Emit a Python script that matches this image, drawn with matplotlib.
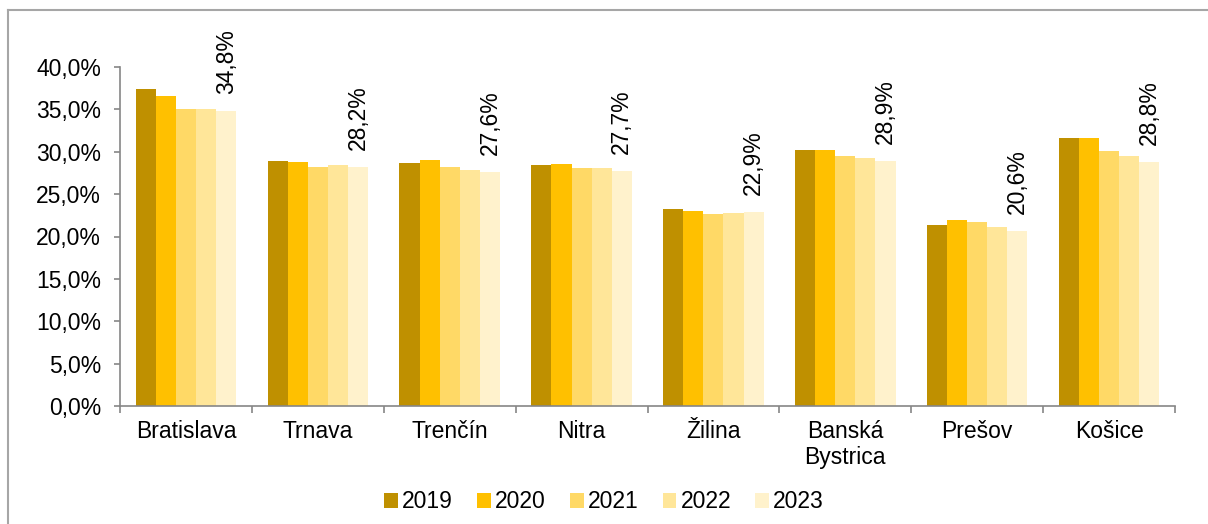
import numpy as np
import matplotlib.pyplot as plt
from matplotlib.lines import Line2D
from matplotlib.ticker import FuncFormatter

plt.rcParams['font.family'] = ['Liberation Sans', 'DejaVu Sans']

regions = ['Bratislava', 'Trnava', 'Trenčín', 'Nitra', 'Žilina',
           'Banská\nBystrica', 'Prešov', 'Košice']
years = ['2019', '2020', '2021', '2022', '2023']

v2019 = [37.4, 28.9, 28.7, 28.4, 23.2, 30.2, 21.3, 31.6]
v2020 = [36.6, 28.8, 29.0, 28.5, 23.0, 30.2, 21.9, 31.6]
v2021 = [35.1, 28.2, 28.2, 28.1, 22.7, 29.5, 21.7, 30.1]
v2022 = [35.0, 28.4, 27.9, 28.1, 22.8, 29.3, 21.1, 29.5]
v2023 = [34.8, 28.2, 27.6, 27.7, 22.9, 28.9, 20.6, 28.8]

colors = ['#BF9000', '#FFC000', '#FFD966', '#FFE699', '#FFF2CC']
series = [v2019, v2020, v2021, v2022, v2023]

fig = plt.figure(figsize=(12.08, 5.24), dpi=100)
ax = fig.add_axes([120/1208, 1-406/524, (1175-120)/1208, (406-67)/524])

x = np.arange(len(regions))
w = 0.1525
for i, (vals, c, yr) in enumerate(zip(series, colors, years)):
    pos = x + (i - 2) * w
    ax.bar(pos, vals, width=w, color=c, label=yr, zorder=2)
    if yr == '2023':
        for px, v in zip(pos, vals):
            ax.annotate(('%.1f%%' % v).replace('.', ','), (px, v),
                        xytext=(0, 12.5), textcoords='offset points',
                        rotation=90, ha='center', va='bottom', fontsize=16.5)

ax.set_xlim(-0.5, len(regions) - 0.5)
ax.set_ylim(0, 40)
ax.set_yticks(np.arange(0, 41, 5))
ax.yaxis.set_major_formatter(FuncFormatter(lambda v, p: ('%.1f%%' % v).replace('.', ',')))

ax.set_xticks(x)
ax.set_xticklabels(regions, fontsize=16.5, linespacing=1.15)
ax.set_xticks(np.arange(-0.5, len(regions)), minor=True)
ax.tick_params(axis='x', which='major', length=0, pad=10)
ax.tick_params(axis='x', which='minor', length=5, color='#868686', width=1.2)
ax.tick_params(axis='y', length=4.5, color='#868686', width=1.2, labelsize=16.5, pad=9)

for s in ['top', 'right']:
    ax.spines[s].set_visible(False)
for s in ['left', 'bottom']:
    ax.spines[s].set_color('#868686')
    ax.spines[s].set_linewidth(1.2)

fig.legend(loc='center', bbox_to_anchor=(0.5, 1 - 502/524), ncol=5, frameon=False,
           fontsize=16.5, handlelength=0.6, handleheight=0.6, handletextpad=0.18,
           columnspacing=1.05)

# outer chart frame (partly outside the picture)
fig.add_artist(Line2D([8/1208, 1], [1 - 10/524, 1 - 10/524], transform=fig.transFigure,
                      color='#A6A6A6', lw=1.5))
fig.add_artist(Line2D([8/1208, 8/1208], [0, 1 - 10/524], transform=fig.transFigure,
                      color='#A6A6A6', lw=1.5))

# title cut off at the top, as in the source picture
fig.text(172/1208, 1 - 3/524, '2023', ha='center', va='bottom', fontsize=21,
         fontweight='bold', family='Liberation Serif')

fig.savefig('out.png', dpi=100)
